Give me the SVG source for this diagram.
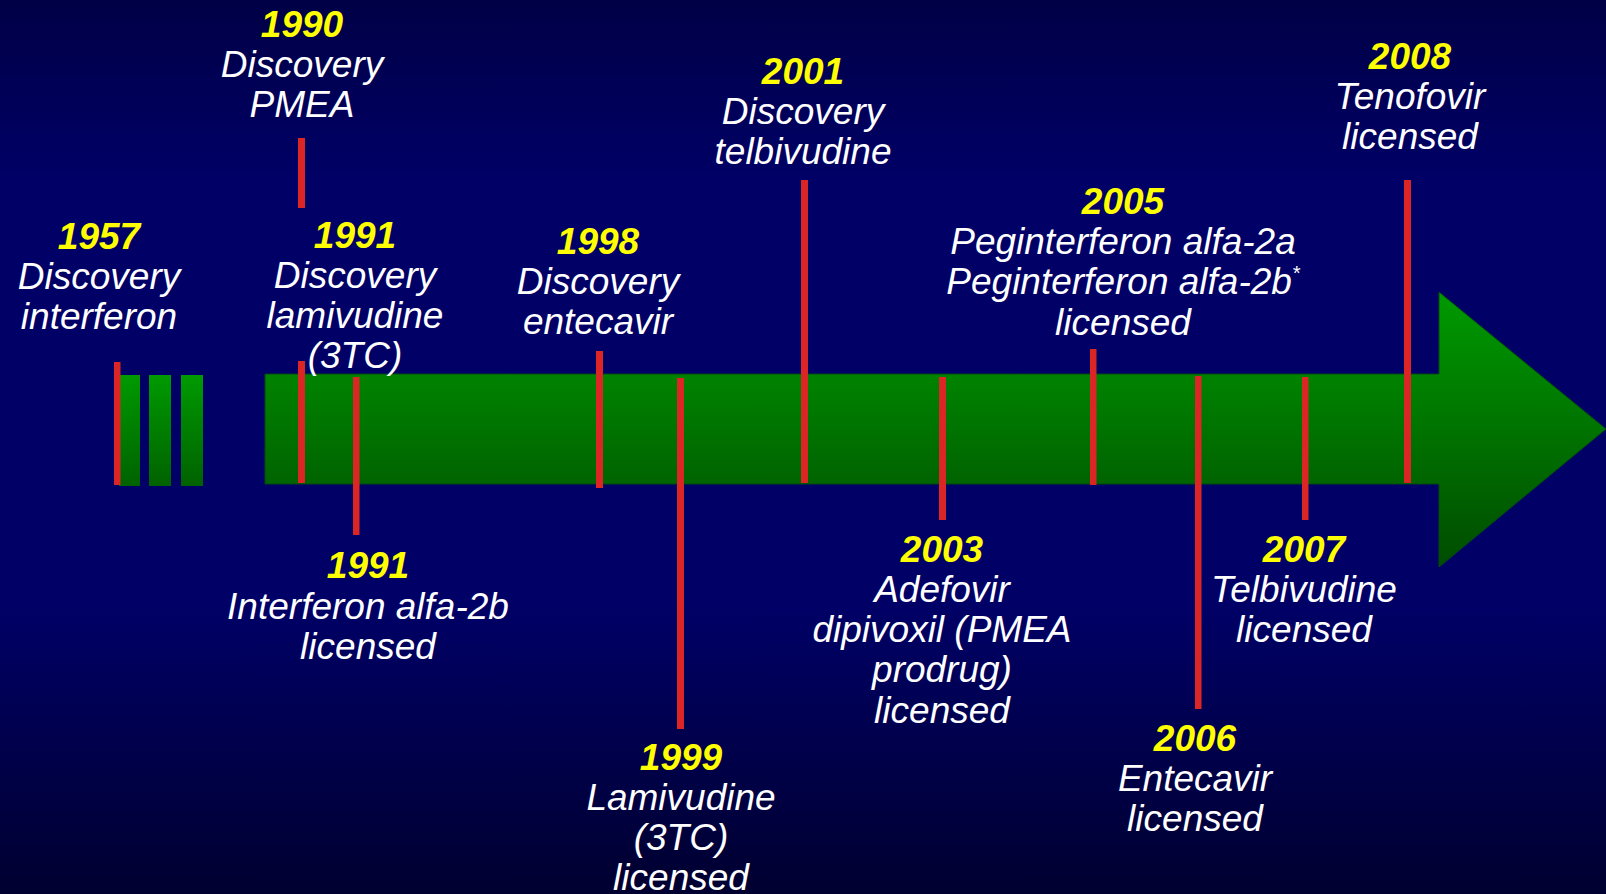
<svg xmlns="http://www.w3.org/2000/svg" width="1606" height="894" viewBox="0 0 1606 894">
<defs>
<linearGradient id="bg" x1="0" y1="0" x2="0" y2="1">
<stop offset="0" stop-color="#000046"/>
<stop offset="0.2" stop-color="#000066"/>
<stop offset="0.68" stop-color="#000066"/>
<stop offset="1" stop-color="#000030"/>
</linearGradient>
<linearGradient id="gr" x1="0" y1="0" x2="0" y2="1">
<stop offset="0" stop-color="#009a00"/>
<stop offset="1" stop-color="#004c00"/>
</linearGradient>
<linearGradient id="gs" x1="0" y1="0" x2="0" y2="1">
<stop offset="0" stop-color="#009a00"/>
<stop offset="1" stop-color="#006200"/>
</linearGradient>
<style>
text{font-family:"Liberation Sans",Arial,sans-serif;font-style:italic;font-size:37px;text-anchor:middle;fill:#ffffff}
.y{font-weight:bold;fill:#ffff00}
.r{fill:#dc2626}
.sup{font-size:20px}
</style>
</defs>
<rect x="0" y="0" width="1606" height="894" fill="url(#bg)"/>
<g id="timeline">
<rect x="119" y="375" width="21" height="111" fill="url(#gs)"/>
<rect x="149" y="375" width="22" height="111" fill="url(#gs)"/>
<rect x="181" y="375" width="22" height="111" fill="url(#gs)"/>
<path d="M265,374 H1439 V292 L1606,429 L1439,567 V484 H265 Z" fill="url(#gr)" stroke="#004a10" stroke-width="1"/>
</g>
<g id="connectors">
<rect class="r" x="114" y="362" width="6.5" height="123"/>
<rect class="r" x="298" y="138" width="7" height="70"/>
<rect class="r" x="298" y="361" width="7" height="122"/>
<rect class="r" x="353" y="377" width="6.5" height="158"/>
<rect class="r" x="596" y="351" width="7" height="137"/>
<rect class="r" x="677" y="378" width="7" height="351"/>
<rect class="r" x="801" y="180" width="7" height="303"/>
<rect class="r" x="939" y="377" width="7" height="143"/>
<rect class="r" x="1090" y="349" width="6.5" height="136"/>
<rect class="r" x="1195" y="376" width="6.5" height="333"/>
<rect class="r" x="1302" y="377" width="6.5" height="143"/>
<rect class="r" x="1404" y="180" width="7" height="303"/>
</g>
<g id="e1957">
<text class="y" x="99" y="249">1957</text>
<text x="99" y="289">Discovery</text>
<text x="99" y="329">interferon</text>
</g>
<g id="e1990">
<text class="y" x="302" y="37">1990</text>
<text x="302" y="77">Discovery</text>
<text x="302" y="117">PMEA</text>
</g>
<g id="e1991a">
<text class="y" x="355" y="248">1991</text>
<text x="355" y="288">Discovery</text>
<text x="355" y="328">lamivudine</text>
<text x="355" y="368">(3TC)</text>
</g>
<g id="e1991b">
<text class="y" x="368" y="578">1991</text>
<text x="368" y="619">Interferon alfa-2b</text>
<text x="368" y="659">licensed</text>
</g>
<g id="e1998">
<text class="y" x="598" y="254">1998</text>
<text x="598" y="294">Discovery</text>
<text x="598" y="334">entecavir</text>
</g>
<g id="e1999">
<text class="y" x="681" y="770">1999</text>
<text x="681" y="810">Lamivudine</text>
<text x="681" y="850">(3TC)</text>
<text x="681" y="890">licensed</text>
</g>
<g id="e2001">
<text class="y" x="803" y="84">2001</text>
<text x="803" y="124">Discovery</text>
<text x="803" y="164">telbivudine</text>
</g>
<g id="e2003">
<text class="y" x="942" y="562">2003</text>
<text x="942" y="602">Adefovir</text>
<text x="942" y="642">dipivoxil (PMEA</text>
<text x="942" y="682">prodrug)</text>
<text x="942" y="723">licensed</text>
</g>
<g id="e2005">
<text class="y" x="1123" y="214">2005</text>
<text x="1123" y="254">Peginterferon alfa-2a</text>
<text x="1123" y="294">Peginterferon alfa-2b<tspan class="sup" dy="-14">*</tspan></text>
<text x="1123" y="335">licensed</text>
</g>
<g id="e2006">
<text class="y" x="1195" y="751">2006</text>
<text x="1195" y="791">Entecavir</text>
<text x="1195" y="831">licensed</text>
</g>
<g id="e2007">
<text class="y" x="1304" y="562">2007</text>
<text x="1304" y="602">Telbivudine</text>
<text x="1304" y="642">licensed</text>
</g>
<g id="e2008">
<text class="y" x="1410" y="69">2008</text>
<text x="1410" y="109">Tenofovir</text>
<text x="1410" y="149">licensed</text>
</g>
</svg>
